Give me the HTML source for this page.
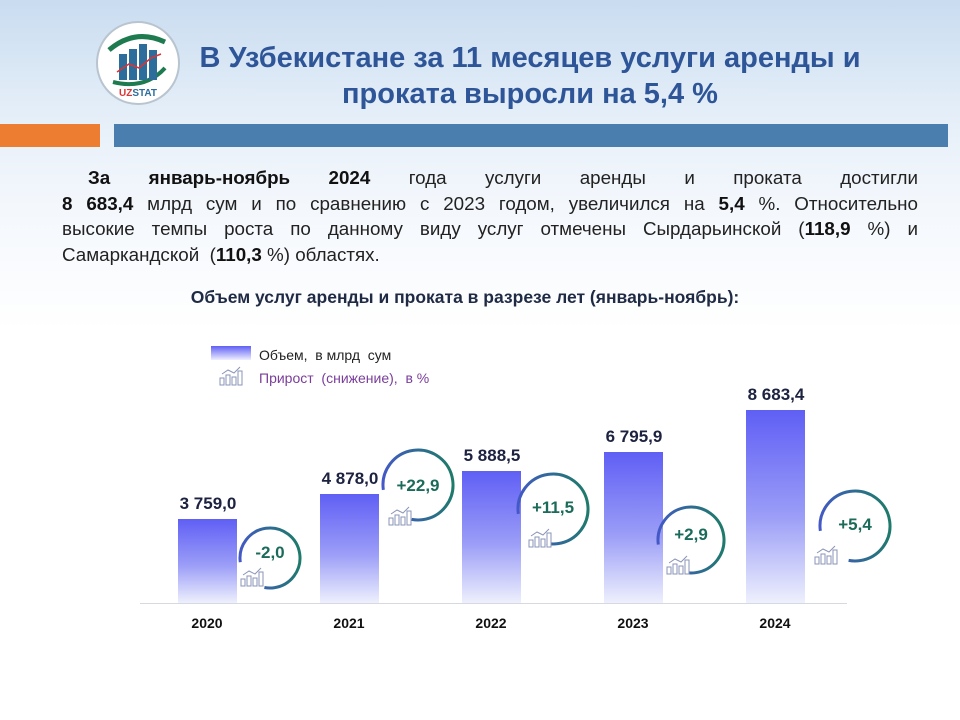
<!DOCTYPE html>
<html><head><meta charset="utf-8"><style>
body{margin:0;width:960px;height:720px;overflow:hidden;font-family:"Liberation Sans",sans-serif;background:linear-gradient(180deg,#c9dcf0 0px,#e4eef8 110px,#f3f7fc 200px,#fff 330px,#fff 720px);position:relative}
.a{position:absolute}
.t{left:130px;width:800px;top:40px;text-align:center;font-size:29px;font-weight:bold;color:#2E5597;line-height:36px}
.p{left:62px;width:856px;top:165px;font-size:18.8px;line-height:25.5px;color:#222}
.p div{text-align:justify;text-align-last:justify;white-space:nowrap}
.p div.i{padding-left:26px}
.p div.l{text-align-last:left}
.p b{color:#111}
.s{left:0;width:930px;top:287px;text-align:center;font-size:17.5px;font-weight:bold;color:#1f2a44}
.bar{position:absolute;width:59px;background:linear-gradient(180deg,#5f5ff5 0%,#9b9df7 55%,#eef0fd 100%)}
.v{position:absolute;width:120px;text-align:center;font-size:17px;font-weight:bold;color:#1c2240}
.y{position:absolute;width:80px;text-align:center;font-size:14px;font-weight:bold;color:#111;top:615px}
.c{position:absolute;text-align:center;font-size:17px;font-weight:bold;color:#1b6b5a}
</style></head><body>
<svg class="a" style="left:95px;top:20px" width="86" height="86" viewBox="0 0 86 86">
<circle cx="43" cy="43" r="41" fill="#fff" stroke="#b8c4cf" stroke-width="2"/>
<path d="M14 30 Q40 8 70 22" stroke="#1e7a4f" stroke-width="5" fill="none"/>
<path d="M18 62 Q50 70 70 48" stroke="#1e7a4f" stroke-width="4" fill="none"/>
<rect x="24" y="34" width="8" height="26" fill="#2d6d9c"/><rect x="34" y="29" width="8" height="31" fill="#2d6d9c"/><rect x="44" y="24" width="8" height="36" fill="#2d6d9c"/><rect x="54" y="30" width="8" height="30" fill="#2d6d9c"/>
<polyline points="22,52 34,44 44,48 56,38 66,34" stroke="#d33" stroke-width="1.5" fill="none"/>
<text x="43" y="76" text-anchor="middle" font-size="10" font-weight="bold" font-family="Liberation Sans" fill="#2d6d9c"><tspan fill="#d33">UZ</tspan>STAT</text>
</svg>
<div class="a t">В Узбекистане за 11 месяцев услуги аренды и<br>проката выросли на 5,4 %</div>
<div class="a" style="left:0;top:124px;width:100px;height:23px;background:#ed7d31"></div>
<div class="a" style="left:114px;top:124px;width:834px;height:23px;background:#4a7eae"></div>
<div class="a p">
<div class="i"><b>За январь-ноябрь 2024</b> года услуги аренды и проката достигли</div>
<div><b>8 683,4</b> млрд сум и по сравнению с 2023 годом, увеличился на <b>5,4</b> %. Относительно</div>
<div>высокие темпы роста по данному виду услуг отмечены Сырдарьинской (<b>118,9</b> %) и</div>
<div class="l">Самаркандской&nbsp; (<b>110,3</b> %) областях.</div>
</div>
<div class="a s">Объем услуг аренды и проката в разрезе лет (январь-ноябрь):</div>
<div class="a" style="left:211px;top:346px;width:40px;height:14px;background:linear-gradient(180deg,#6060f5,#eef)"></div>
<div class="a" style="left:259px;top:347px;font-size:14px;color:#222">Объем,&nbsp; в млрд&nbsp; сум</div>
<div class="a" style="left:259px;top:370px;font-size:14px;color:#7a3d9a">Прирост&nbsp; (снижение),&nbsp; в %</div>
<div class="a" style="left:140px;top:603px;width:707px;height:1px;background:#d6d9e0"></div>
<div class="bar" style="left:178px;top:519px;height:84px"></div>
<div class="bar" style="left:320px;top:494px;height:109px"></div>
<div class="bar" style="left:462px;top:471px;height:132px"></div>
<div class="bar" style="left:604px;top:452px;height:151px"></div>
<div class="bar" style="left:746px;top:410px;height:193px"></div>
<div class="v" style="left:148px;top:494px">3 759,0</div>
<div class="v" style="left:290px;top:469px">4 878,0</div>
<div class="v" style="left:432px;top:446px">5 888,5</div>
<div class="v" style="left:574px;top:427px">6 795,9</div>
<div class="v" style="left:716px;top:385px">8 683,4</div>
<div class="y" style="left:167px">2020</div><div class="y" style="left:309px">2021</div><div class="y" style="left:451px">2022</div><div class="y" style="left:593px">2023</div><div class="y" style="left:735px">2024</div>
<svg class="a" style="left:0;top:0" width="960" height="720">
<defs><linearGradient id="g" x1="0" y1="0" x2="1" y2="0"><stop offset="0" stop-color="#1e7a6a"/><stop offset="1" stop-color="#4458c8"/></linearGradient></defs>
<g fill="none" stroke="url(#g)" stroke-width="3">
<circle cx="270" cy="558" r="30" stroke-dasharray="151 38" transform="rotate(172 270 558)"/>
<circle cx="418" cy="485" r="35" stroke-dasharray="176 44" transform="rotate(172 418 485)"/>
<circle cx="553" cy="509" r="35" stroke-dasharray="176 44" transform="rotate(172 553 509)"/>
<circle cx="691" cy="540" r="33" stroke-dasharray="166 41" transform="rotate(172 691 540)"/>
<circle cx="855" cy="526" r="35" stroke-dasharray="176 44" transform="rotate(172 855 526)"/>
</g>
<g stroke="#8a94b8" stroke-width="1" fill="#fff">
<g transform="translate(219,367)"><rect x="1" y="11" width="4" height="7"/><rect x="7" y="8" width="4" height="10"/><rect x="13" y="10" width="4" height="8"/><rect x="19" y="4" width="4" height="14"/><polyline points="3,7 9,3 15,6 21,0" fill="none"/></g>
<g transform="translate(240,568)"><rect x="1" y="11" width="4" height="7"/><rect x="7" y="8" width="4" height="10"/><rect x="13" y="10" width="4" height="8"/><rect x="19" y="4" width="4" height="14"/><polyline points="3,7 9,3 15,6 21,0" fill="none"/></g>
<g transform="translate(388,507)"><rect x="1" y="11" width="4" height="7"/><rect x="7" y="8" width="4" height="10"/><rect x="13" y="10" width="4" height="8"/><rect x="19" y="4" width="4" height="14"/><polyline points="3,7 9,3 15,6 21,0" fill="none"/></g>
<g transform="translate(528,529)"><rect x="1" y="11" width="4" height="7"/><rect x="7" y="8" width="4" height="10"/><rect x="13" y="10" width="4" height="8"/><rect x="19" y="4" width="4" height="14"/><polyline points="3,7 9,3 15,6 21,0" fill="none"/></g>
<g transform="translate(666,556)"><rect x="1" y="11" width="4" height="7"/><rect x="7" y="8" width="4" height="10"/><rect x="13" y="10" width="4" height="8"/><rect x="19" y="4" width="4" height="14"/><polyline points="3,7 9,3 15,6 21,0" fill="none"/></g>
<g transform="translate(814,546)"><rect x="1" y="11" width="4" height="7"/><rect x="7" y="8" width="4" height="10"/><rect x="13" y="10" width="4" height="8"/><rect x="19" y="4" width="4" height="14"/><polyline points="3,7 9,3 15,6 21,0" fill="none"/></g>
</g></svg>
<div class="c" style="left:240px;top:543px;width:60px">-2,0</div>
<div class="c" style="left:388px;top:476px;width:60px">+22,9</div>
<div class="c" style="left:523px;top:498px;width:60px">+11,5</div>
<div class="c" style="left:661px;top:525px;width:60px">+2,9</div>
<div class="c" style="left:825px;top:515px;width:60px">+5,4</div>
</body></html>
